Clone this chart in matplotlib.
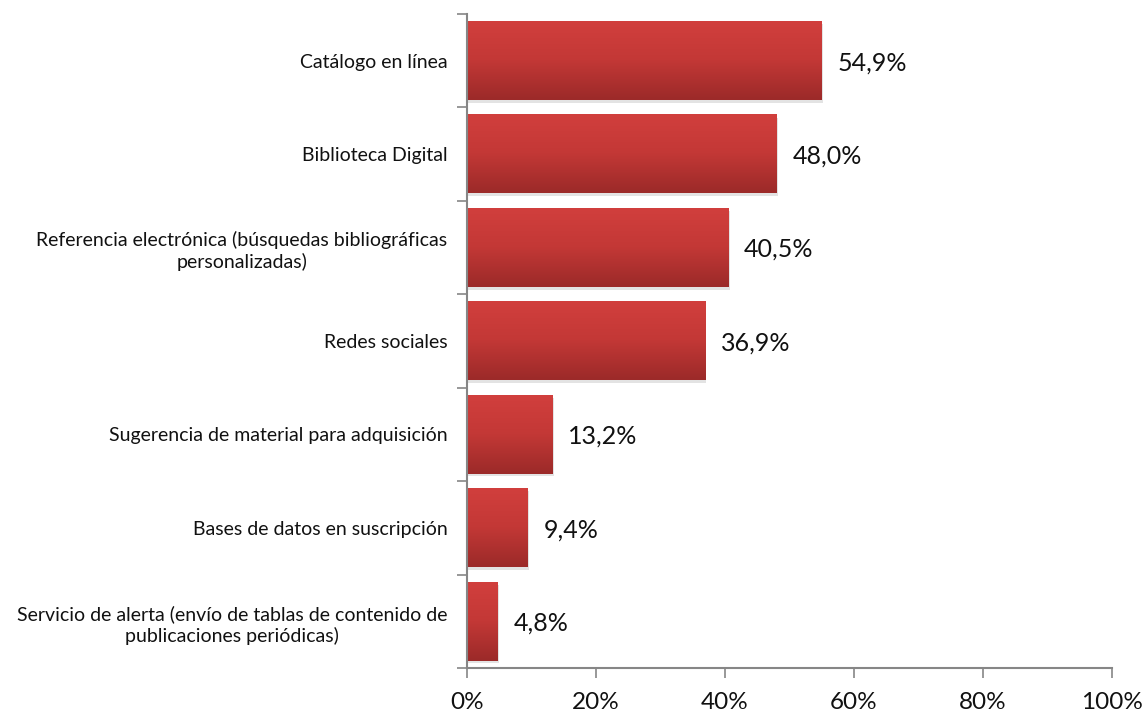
import numpy as np
import matplotlib.pyplot as plt
from matplotlib.colors import LinearSegmentedColormap
from matplotlib.ticker import FixedLocator, PercentFormatter

plt.rcParams['font.family'] = ['Lato', 'DejaVu Sans']

categorias = [
    'Catálogo en línea',
    'Biblioteca Digital',
    'Referencia electrónica (búsquedas bibliográficas\npersonalizadas)',
    'Redes sociales',
    'Sugerencia de material para adquisición',
    'Bases de datos en suscripción',
    'Servicio de alerta (envío de tablas de contenido de\npublicaciones periódicas)',
]
porcentajes = [54.9, 48.0, 40.5, 36.9, 13.2, 9.4, 4.8]
etiquetas = ['54,9%', '48,0%', '40,5%', '36,9%', '13,2%', '9,4%', '4,8%']

fig = plt.figure(figsize=(11.44, 7.15), dpi=100)
ax = fig.add_axes([0.408, 0.0657, 0.564, 0.9147])

n = len(categorias)
pos = np.arange(n)
alto = 0.84
grad = LinearSegmentedColormap.from_list('rojo', ['#d13f3d', '#c33836', '#9c2a29'])
g = np.linspace(0, 1, 64).reshape(-1, 1)

for y, v, txt in zip(pos, porcentajes, etiquetas):
    # sombra suave
    ax.barh(y + 0.03, v, height=alto, left=0.25, color='#b0b0b0', alpha=0.35, zorder=1)
    ax.imshow(g, cmap=grad, aspect='auto', interpolation='bicubic',
              extent=(0, v, y + alto / 2, y - alto / 2), zorder=2)
    ax.text(v + 2.5, y + 0.02, txt, va='center', ha='left', fontsize=18, color='#111111')

ax.set_xlim(0, 100)
ax.set_ylim(n - 0.5, -0.5)

ax.xaxis.set_major_locator(FixedLocator([0, 20, 40, 60, 80, 100]))
ax.xaxis.set_major_formatter(PercentFormatter(decimals=0))
ax.tick_params(axis='x', length=7, width=1.2, color='#868686', labelsize=17.5, pad=10,
               labelcolor='#111111')

ax.yaxis.set_major_locator(FixedLocator(np.arange(-0.5, n, 1.0)))
ax.yaxis.set_major_formatter(plt.NullFormatter())
ax.set_yticks(pos, categorias, minor=True)
ax.tick_params(axis='y', which='major', length=7, width=1.2, color='#868686')
ax.tick_params(axis='y', which='minor', length=0, labelsize=14, pad=14, labelcolor='#111111')
for lab in ax.get_yticklabels(minor=True):
    lab.set_multialignment('center')
    lab.set_linespacing(1.25)

for s in ['top', 'right']:
    ax.spines[s].set_visible(False)
for s in ['left', 'bottom']:
    ax.spines[s].set_color('#868686')
    ax.spines[s].set_linewidth(1.5)

fig.savefig('out.png', dpi=100)
